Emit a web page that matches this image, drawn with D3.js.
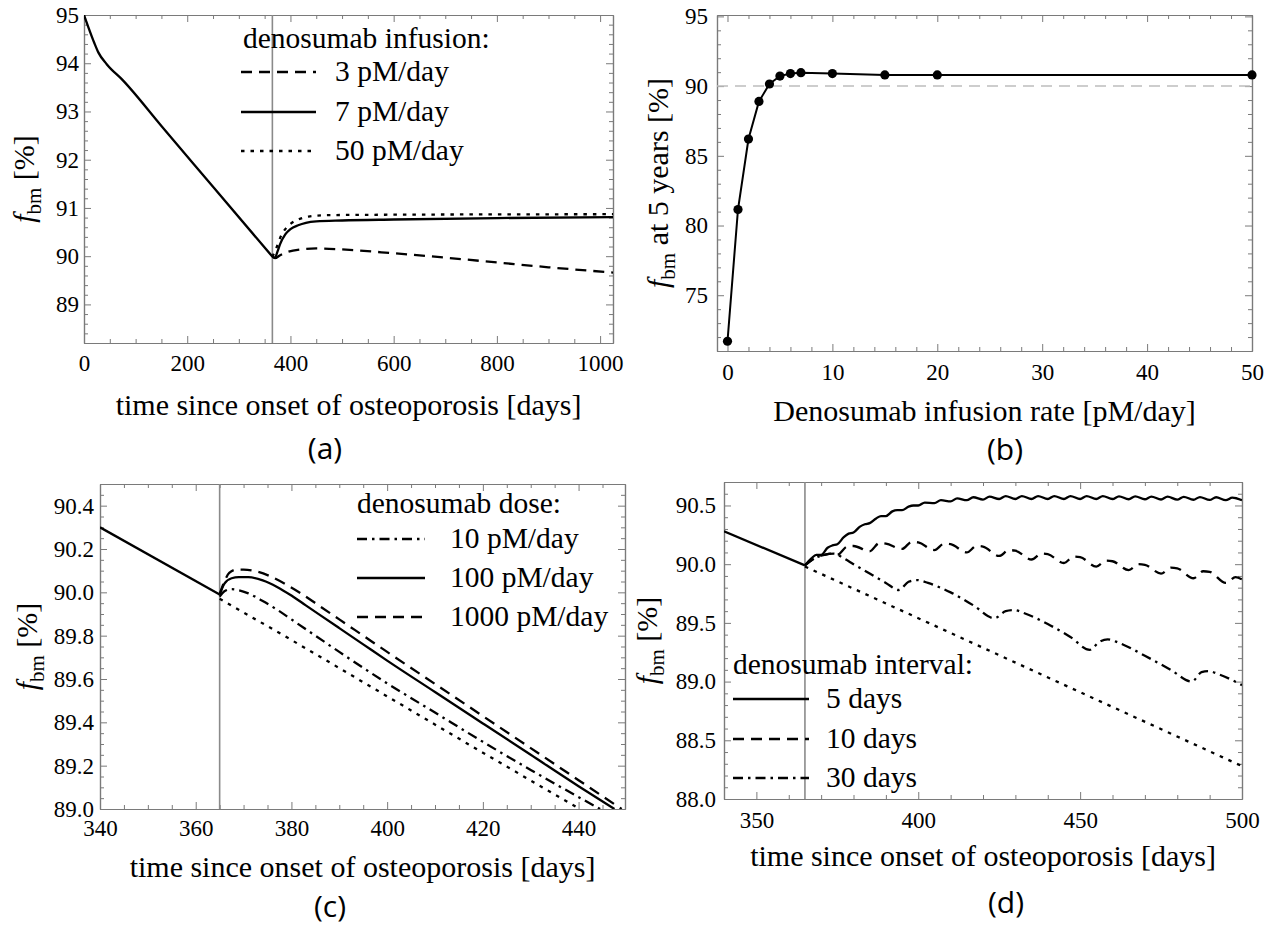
<!DOCTYPE html>
<html>
<head>
<meta charset="utf-8">
<script src="https://cdn.jsdelivr.net/npm/d3@7"></script>
<style>
  body { margin: 0; background: #fff; }
  svg text { font-family: "Liberation Serif", "Times New Roman", serif; fill: #000; }
</style>
</head>
<body>
<svg id="fig" width="1265" height="927"></svg>
<script>
// ---------- panel (a): continuous infusion ----------
const aPre = [[0, 95.0], [8, 94.76], [20, 94.42], [28, 94.22], [44, 93.98], [75, 93.65], [150, 92.70], [250, 91.44], [365, 89.99]];
const a3pM = [[365, 89.99], [370, 89.96], [380, 90.02], [395, 90.09], [420, 90.14], [450, 90.16], [500, 90.14],
  [600, 90.06], [700, 89.97], [800, 89.87], [900, 89.77], [1025, 89.66]];
const a7pM = [[365, 89.99], [370, 89.97], [375, 90.1], [380, 90.25], [390, 90.45], [400, 90.56], [415, 90.64],
  [430, 90.69], [450, 90.72], [500, 90.74], [600, 90.76], [800, 90.79], [1025, 90.81]];
const a50pM = [[365, 89.99], [372, 90.15], [380, 90.38], [390, 90.56], [400, 90.67], [415, 90.76], [435, 90.82],
  [470, 90.85], [600, 90.86], [1025, 90.87]];
const aLegend = ['3 pM/day', '7 pM/day', '50 pM/day'];
const aXTicks = [0, 200, 400, 600, 800, 1000];
const aYTicks = [89, 90, 91, 92, 93, 94, 95];

// ---------- panel (b): f_bm after 5 years vs infusion rate ----------
const bRates = [0, 1, 2, 3, 4, 5, 6, 7, 10, 15, 20, 50];
const bFbm = [71.7, 81.15, 86.2, 88.9, 90.15, 90.72, 90.9, 90.96, 90.9, 90.8, 90.8, 90.8];
const bXTicks = [0, 10, 20, 30, 40, 50];
const bYTicks = [75, 80, 85, 90, 95];

// ---------- panel (c): dose ----------
const cPre = [[340, 90.30], [365, 89.99]];
const c10 = [[365, 89.98], [366, 90.005], [367.5, 90.015], [369, 90.01], [371, 89.995], [374, 89.96], [377, 89.92],
  [380, 89.875], [385, 89.8], [390, 89.725], [400, 89.58], [410, 89.445], [420, 89.31], [430, 89.18], [444.5, 89.0]];
const c100 = [[365, 89.99], [366, 90.04], [367.5, 90.065], [369, 90.07], [371, 90.07], [374, 90.055], [377, 90.025],
  [380, 89.985], [383, 89.94], [386, 89.895], [390, 89.835], [395, 89.76], [400, 89.685], [410, 89.54], [420, 89.395],
  [430, 89.25], [440, 89.105], [447.5, 89.0]];
const c1000 = [[365, 89.99], [366, 90.05], [367, 90.09], [368.5, 90.105], [370, 90.105], [373, 90.095], [376, 90.07],
  [379, 90.035], [382, 89.995], [386, 89.935], [390, 89.875], [395, 89.8], [400, 89.725], [410, 89.577], [420, 89.429],
  [430, 89.281], [440, 89.133], [449, 89.0]];
const cNone = [[365, 89.97], [380, 89.78], [400, 89.52], [420, 89.26], [440.3, 89.0]];
const cLegend = ['10 pM/day', '100 pM/day', '1000 pM/day'];
const cXTicks = [340, 360, 380, 400, 420, 440];
const cYTicks = [89.0, 89.2, 89.4, 89.6, 89.8, 90.0, 90.2, 90.4];

// ---------- panel (d): interval ----------
const dPre = [[340, 90.28], [365, 89.99]];
const d5 = [[365, 89.99], [367, 90.05], [368.5, 90.08], [370, 90.08], [372, 90.14], [373.5, 90.16], [375, 90.17],
  [377, 90.23], [378.5, 90.26], [380, 90.27], [382, 90.32], [383.5, 90.34], [385, 90.35], [387, 90.39], [388.5, 90.41],
  [390, 90.41], [392, 90.45], [393.5, 90.46], [395, 90.46], [397, 90.49], [398.5, 90.5], [400, 90.5], [402, 90.525],
  [405, 90.52], [407, 90.545], [410, 90.535], [412, 90.56], [415, 90.545], [417, 90.57], [420, 90.55], [422, 90.575],
  [425, 90.555], [427, 90.58], [430, 90.555], [432, 90.58], [435, 90.555], [437, 90.58], [440, 90.555], [442, 90.58],
  [445, 90.555], [447, 90.58], [450, 90.555], [452, 90.58], [455, 90.555], [457, 90.58], [460, 90.555], [462, 90.578],
  [465, 90.553], [467, 90.578], [470, 90.553], [472, 90.576], [475, 90.551], [477, 90.575], [480, 90.55], [482, 90.574],
  [485, 90.549], [487, 90.572], [490, 90.547], [492, 90.57], [495, 90.545], [497, 90.567], [500, 90.545]];
const d10 = [[365, 89.99], [368, 90.05], [371, 90.08], [373, 90.09], [375, 90.08], [378, 90.15], [380, 90.155],
  [385, 90.11], [388, 90.18], [390, 90.175], [395, 90.13], [398, 90.19], [400, 90.185], [405, 90.12], [408, 90.175],
  [410, 90.17], [415, 90.1], [418, 90.155], [420, 90.15], [425, 90.07], [428, 90.12], [430, 90.115], [435, 90.04],
  [438, 90.09], [440, 90.085], [445, 90.01], [448, 90.065], [450, 90.06], [455, 89.98], [458, 90.03], [460, 90.025],
  [465, 89.95], [468, 90.0], [470, 89.995], [475, 89.92], [478, 89.97], [480, 89.965], [485, 89.88], [488, 89.94],
  [490, 89.935], [495, 89.84], [498, 89.89], [500, 89.87]];
const d30 = [[365, 89.99], [368, 90.05], [371, 90.08], [374, 90.09], [377, 90.05], [380, 90.0], [385, 89.92],
  [390, 89.84], [394, 89.78], [397, 89.85], [399.5, 89.865], [403, 89.84], [410, 89.76], [417, 89.65], [423.5, 89.54],
  [427, 89.6], [429.5, 89.61], [433, 89.58], [440, 89.49], [447, 89.38], [453, 89.27], [456, 89.34], [458.5, 89.36],
  [462, 89.33], [470, 89.22], [478, 89.1], [484.5, 89.0], [487.5, 89.08], [489.5, 89.09], [493, 89.06], [500, 88.97]];
const dNone = [[365, 89.98], [400, 89.54], [450, 88.91], [500, 88.28]];
const dLegend = ['5 days', '10 days', '30 days'];
const dXTicks = [350, 400, 450, 500];
const dYTicks = [88.0, 88.5, 89.0, 89.5, 90.0, 90.5];

// ---------- drawing ----------
const svg = d3.select('#fig');
const serif = '"Liberation Serif", "Times New Roman", serif';
const frameColor = '#7a7a7a';
const dashes = { solid: null, dashed: '11,7', dotted: '3.5,6', dashdot: '10,5,2.5,5' };

function drawPanel(p) {
	var x = d3.scaleLinear().domain(p.xDomain).range([p.left, p.right]);
	var y = d3.scaleLinear().domain(p.yDomain).range([p.bottom, p.top]);
	var g = svg.append('g');

	g.append('clipPath').attr('id', 'clip-' + p.tag)
		.append('rect')
		.attr('x', p.left).attr('y', p.top)
		.attr('width', p.right - p.left).attr('height', p.bottom - p.top);

	const notMajor = (majors) => (v) => !majors.some((m) => Math.abs(m - v) < 1e-6);
	var xMinor = d3.range(p.xMinorStart, p.xDomain[1] + 1e-6, p.xMinorStep).filter(notMajor(p.xTicks));
	var yMinor = d3.range(p.yMinorStart, p.yDomain[1] + 1e-6, p.yMinorStep).filter(notMajor(p.yTicks));

	const addAxis = (axisFn, scale, vals, size, tr, fmt) => {
		var a = g.append('g')
			.attr('transform', tr)
			.call(axisFn(scale).tickValues(vals).tickSizeInner(-size).tickSizeOuter(0).tickFormat(fmt || (() => '')));
		a.attr('color', frameColor).attr('font-size', 23).attr('font-family', serif);
		a.selectAll('line').attr('stroke-width', 1);
		a.select('.domain').attr('stroke-width', 1.2);
		return a;
	};

	// bottom axis with labels
	var xb = addAxis(d3.axisBottom, x, p.xTicks, 7, 'translate(0,' + p.bottom + ')', p.xFmt);
	xb.selectAll('text').attr('y', p.xLabelBase - p.bottom).attr('dy', null).style('fill', '#000');
	addAxis(d3.axisBottom, x, xMinor, 4, 'translate(0,' + p.bottom + ')');
	addAxis(d3.axisTop, x, p.xTicks, 7, 'translate(0,' + p.top + ')');
	addAxis(d3.axisTop, x, xMinor, 4, 'translate(0,' + p.top + ')');

	var yl = addAxis(d3.axisLeft, y, p.yTicks, 7, 'translate(' + p.left + ',0)', p.yFmt);
	yl.selectAll('text').attr('x', -p.yGap).style('fill', '#000');
	addAxis(d3.axisLeft, y, yMinor, 4, 'translate(' + p.left + ',0)');
	addAxis(d3.axisRight, y, p.yTicks, 7, 'translate(' + p.right + ',0)');
	addAxis(d3.axisRight, y, yMinor, 4, 'translate(' + p.right + ',0)');

	// x title
	g.append('text')
		.attr('x', (p.left + p.right) / 2)
		.attr('y', p.xTitleBase)
		.attr('text-anchor', 'middle')
		.attr('font-size', 30)
		.text(p.xTitle);

	// y title: f_bm ...
	var yt = g.append('text')
		.attr('transform', 'translate(' + p.yTitleX + ',' + (p.top + p.bottom) / 2 + ') rotate(-90)')
		.attr('text-anchor', 'middle')
		.attr('font-size', 30);
	yt.append('tspan').attr('font-style', 'italic').text('f');
	yt.append('tspan').attr('font-size', 21).attr('dy', 7).text('bm');
	yt.append('tspan').attr('dy', -7).text(p.yTitleRest);

	// panel tag
	g.append('text')
		.attr('x', p.tagX)
		.attr('y', p.tagBase)
		.attr('text-anchor', 'middle')
		.attr('font-size', 30)
		.style('font-family', '"Open Sans", "Noto Sans", sans-serif')
		.text('(' + p.tag + ')');

	var plot = g.append('g').attr('clip-path', 'url(#clip-' + p.tag + ')');
	return { g: g, plot: plot, x: x, y: y };
}

function addCurve(P, data, style) {
	var line = d3.line()
		.x((d) => P.x(d[0]))
		.y((d) => P.y(d[1]))
		.curve(d3.curveMonotoneX);
	P.plot.append('path')
		.datum(data)
		.attr('d', line)
		.attr('fill', 'none')
		.attr('stroke', '#000')
		.attr('stroke-width', 2.3)
		.attr('stroke-dasharray', dashes[style]);
}

function addTreatmentLine(P, day) {
	P.plot.append('line')
		.attr('x1', P.x(day)).attr('x2', P.x(day))
		.attr('y1', P.y.range()[0]).attr('y2', P.y.range()[1])
		.attr('stroke', '#8a8a8a')
		.attr('stroke-width', 1.6);
}

function addLegend(P, lg) {
	P.g.append('text')
		.attr('x', lg.titleX).attr('y', lg.titleBase)
		.attr('font-size', 29.5)
		.text(lg.title);
	lg.labels.forEach((label, i) => {
		P.g.append('line')
			.attr('x1', lg.lineX[0]).attr('x2', lg.lineX[1])
			.attr('y1', lg.lineY[i]).attr('y2', lg.lineY[i])
			.attr('stroke', '#000')
			.attr('stroke-width', 2.3)
			.attr('stroke-dasharray', dashes[lg.styles[i]]);
		P.g.append('text')
			.attr('x', lg.textX).attr('y', lg.lineY[i] + 9)
			.attr('font-size', 29.5)
			.text(label);
	});
}

// (a)
var A = drawPanel({
	tag: 'a', left: 84, right: 613, top: 15, bottom: 343,
	xDomain: [0, 1025], yDomain: [88.2, 95],
	xTicks: aXTicks, yTicks: aYTicks, xMinorStart: 0, xMinorStep: 50, yMinorStart: 88.2, yMinorStep: 0.2,
	xFmt: d3.format('d'), yFmt: d3.format('d'), xLabelBase: 371, yGap: 5,
	xTitle: 'time since onset of osteoporosis [days]', xTitleBase: 415,
	yTitleX: 34, yTitleRest: ' [%]', tagX: 325, tagBase: 459
});
addTreatmentLine(A, 365);
addCurve(A, aPre, 'solid');
addCurve(A, a3pM, 'dashed');
addCurve(A, a7pM, 'solid');
addCurve(A, a50pM, 'dotted');
addLegend(A, {
	title: 'denosumab infusion:', titleX: 243, titleBase: 48,
	labels: aLegend, styles: ['dashed', 'solid', 'dotted'],
	lineX: [241, 316], lineY: [72, 112, 151], textX: 335
});

// (b)
var B = drawPanel({
	tag: 'b', left: 717, right: 1252, top: 15, bottom: 351,
	xDomain: [-1, 50], yDomain: [71, 95.1],
	xTicks: bXTicks, yTicks: bYTicks, xMinorStart: 0, xMinorStep: 2, yMinorStart: 71, yMinorStep: 1,
	xFmt: d3.format('d'), yFmt: d3.format('d'), xLabelBase: 380, yGap: 9,
	xTitle: 'Denosumab infusion rate [pM/day]', xTitleBase: 421,
	yTitleX: 668, yTitleRest: ' at 5 years [%]', tagX: 1005, tagBase: 460
});
B.plot.append('line')
	.attr('x1', B.x.range()[0]).attr('x2', B.x.range()[1])
	.attr('y1', B.y(90)).attr('y2', B.y(90))
	.attr('stroke', '#bdbdbd').attr('stroke-width', 1.5).attr('stroke-dasharray', '11,7');
var bPoints = bRates.map((r, i) => [r, bFbm[i]]);
B.plot.append('path')
	.datum(bPoints)
	.attr('d', d3.line().x((d) => B.x(d[0])).y((d) => B.y(d[1])))
	.attr('fill', 'none').attr('stroke', '#000').attr('stroke-width', 2);
B.g.selectAll('circle.pt')
	.data(bPoints)
	.enter()
	.append('circle')
	.attr('class', 'pt')
	.attr('cx', (d) => B.x(d[0]))
	.attr('cy', (d) => B.y(d[1]))
	.attr('r', 4.6)
	.attr('fill', '#000');

// (c)
var C = drawPanel({
	tag: 'c', left: 100, right: 625, top: 484, bottom: 809,
	xDomain: [340, 449.7], yDomain: [89.0, 90.5],
	xTicks: cXTicks, yTicks: cYTicks, xMinorStart: 340, xMinorStep: 5, yMinorStart: 89.0, yMinorStep: 0.05,
	xFmt: d3.format('d'), yFmt: d3.format('.1f'), xLabelBase: 836, yGap: 6,
	xTitle: 'time since onset of osteoporosis [days]', xTitleBase: 877,
	yTitleX: 37, yTitleRest: ' [%]', tagX: 330, tagBase: 917
});
addTreatmentLine(C, 365);
addCurve(C, cPre, 'solid');
addCurve(C, cNone, 'dotted');
addCurve(C, c10, 'dashdot');
addCurve(C, c100, 'solid');
addCurve(C, c1000, 'dashed');
addLegend(C, {
	title: 'denosumab dose:', titleX: 357, titleBase: 513,
	labels: cLegend, styles: ['dashdot', 'solid', 'dashed'],
	lineX: [357, 425], lineY: [539, 578, 617], textX: 450
});

// (d)
var D = drawPanel({
	tag: 'd', left: 724, right: 1242, top: 482, bottom: 799,
	xDomain: [340, 500], yDomain: [88.0, 90.7],
	xTicks: dXTicks, yTicks: dYTicks, xMinorStart: 340, xMinorStep: 10, yMinorStart: 88.0, yMinorStep: 0.1,
	xFmt: d3.format('d'), yFmt: d3.format('.1f'), xLabelBase: 828, yGap: 8,
	xTitle: 'time since onset of osteoporosis [days]', xTitleBase: 866,
	yTitleX: 657, yTitleRest: ' [%]', tagX: 1006, tagBase: 913
});
addTreatmentLine(D, 365);
addCurve(D, dPre, 'solid');
addCurve(D, dNone, 'dotted');
addCurve(D, d30, 'dashdot');
addCurve(D, d10, 'dashed');
addCurve(D, d5, 'solid');
addLegend(D, {
	title: 'denosumab interval:', titleX: 733, titleBase: 674,
	labels: dLegend, styles: ['solid', 'dashed', 'dashdot'],
	lineX: [733, 809], lineY: [699, 739, 778], textX: 826
});
</script>
</body>
</html>
